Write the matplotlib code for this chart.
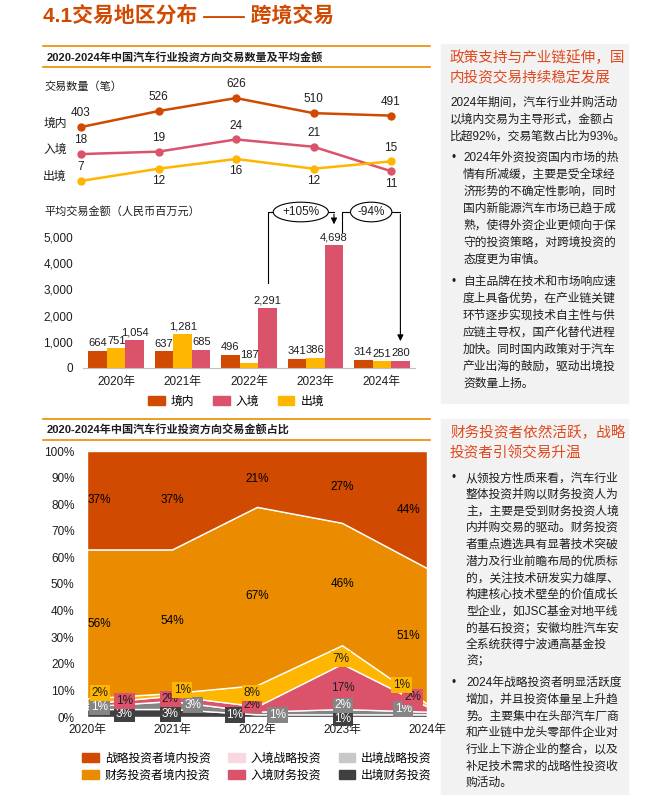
import matplotlib.pyplot as plt
from matplotlib.patches import Rectangle, Patch
from matplotlib.lines import Line2D

plt.rcParams['font.family'] = ['Liberation Sans', 'Noto Sans CJK SC', 'DejaVu Sans']

W, H = 670, 795

years = ['2020年', '2021年', '2022年', '2023年', '2024年']

# transaction counts
count_domestic = [403, 526, 626, 510, 491]
count_inbound = [18, 19, 24, 21, 11]
count_outbound = [7, 12, 16, 12, 15]

# average deal value (RMB mn)
avg_domestic = [664, 637, 496, 341, 314]
avg_outbound = [751, 1281, 187, 386, 251]
avg_inbound = [1054, 685, 2291, 4698, 280]
change_labels = ['+105%', '-94%']

# share of deal value (%), bottom -> top
share_out_fin = [3, 3, 1, 1, 1]
share_out_str = [1, 3, 1, 2, 1]
share_in_fin = [1, 2, 2, 17, 2]
share_in_str = [2, 1, 8, 7, 1]
share_dom_fin = [56, 54, 67, 46, 51]
share_dom_str = [37, 37, 21, 27, 44]

C_DOM = '#D04A02'
C_FIN = '#EB8C00'
C_OUT = '#FFB600'
C_IN = '#DB536A'
C_GRAY = '#858585'
C_DARK = '#404040'
C_LINE = '#EB8C00'
C_HEAD = '#E0481E'
TXT = '#1E1E1E'

fig = plt.figure(figsize=(W / 100, H / 100), dpi=100)


def px_axes(x0, y0, x1, y1):
    return fig.add_axes([x0 / W, 1 - y1 / H, (x1 - x0) / W, (y1 - y0) / H])


def txt(x, y, s, **kw):
    kw.setdefault('va', 'center')
    kw.setdefault('color', TXT)
    fig.text(x / W, 1 - y / H, s, **kw)


def hline(x0, x1, y, color=C_LINE, lw=1.2):
    fig.add_artist(Line2D([x0 / W, x1 / W], [1 - y / H, 1 - y / H], color=color, lw=lw))


# ---- header
txt(43, 15, '4.1交易地区分布 —— 跨境交易', fontsize=15, fontweight='bold', color=C_DOM)
hline(43, 430, 46)
txt(47, 57, '2020-2024年中国汽车行业投资方向交易数量及平均金额', fontsize=8, fontweight='bold')
hline(43, 430, 67)

# ---- line chart (counts)
txt(44, 87, '交易数量（笔）', fontsize=8)
for lab, yy in zip(['境内', '入境', '出境'], [124, 150, 177]):
    txt(55, yy, lab, fontsize=8.5, ha='center')

ax_s = px_axes(81, 80, 391, 198)
ax_d = px_axes(81, 80, 391, 198)
for a in (ax_s, ax_d):
    a.set_xlim(0, 4)
    a.axis('off')
ax_s.set_ylim(0, 118 / 2.44)
ax_d.set_ylim(-143, 765)

xs = list(range(5))


def draw_count(ax, vals, color, sides):
    ax.plot(xs, vals, color=color, lw=1.8, marker='o', ms=5, clip_on=False)
    for x, v, s in zip(xs, vals, sides):
        off = 10 if s > 0 else -9
        ax.annotate(str(v), (x, v), xytext=(0, off), textcoords='offset points',
                    ha='center', va='center', fontsize=8.5, color=TXT)


draw_count(ax_d, count_domestic, C_DOM, [1, 1, 1, 1, 1])
draw_count(ax_s, count_inbound, C_IN, [1, 1, 1, 1, -1])
draw_count(ax_s, count_outbound, C_OUT, [1, -1, -1, -1, 1])

# ---- bar chart (average value)
txt(44, 211, '平均交易金额（人民币百万元）', fontsize=8)
ax_b = px_axes(83, 237, 415, 368)
w = 0.28
b1 = ax_b.bar([x - w for x in xs], avg_domestic, w, color=C_DOM)
b2 = ax_b.bar(xs, avg_outbound, w, color=C_OUT)
b3 = ax_b.bar([x + w for x in xs], avg_inbound, w, color=C_IN)
for bars in (b1, b2, b3):
    ax_b.bar_label(bars, labels=[f'{v:,}' for v in bars.datavalues], padding=2,
                   fontsize=8, color=TXT)
ax_b.set_xlim(-0.5, 4.5)
ax_b.set_ylim(0, 5000)
ax_b.set_yticks(range(0, 5001, 1000))
ax_b.set_yticklabels([f'{v:,}' for v in range(0, 5001, 1000)])
ax_b.set_xticks(xs)
ax_b.set_xticklabels(years)
ax_b.tick_params(length=0, labelsize=8.5, colors=TXT)
ax_b.tick_params(axis='y', pad=7)
ax_b.tick_params(axis='x', pad=6)
for sp in ['top', 'right', 'left']:
    ax_b.spines[sp].set_visible(False)
ax_b.spines['bottom'].set_color('#BFBFBF')

# change brackets
top = 5954
kw = dict(color='black', lw=0.8, clip_on=False)
arrow = dict(arrowstyle='-|>', color='black', lw=0.8, mutation_scale=9)
x_a, x_b = 2 + w, 3 + w
ax_b.plot([x_a, x_a, x_b], [avg_inbound[2] + 950, top, top], **kw)
ax_b.annotate('', xy=(x_b, avg_inbound[3] + 680), xytext=(x_b, top + 20),
              arrowprops=arrow, annotation_clip=False)
x_c, x_d = 3.40, 4 + w
ax_b.plot([x_c, x_c, x_d], [avg_inbound[3] + 490, top, top], **kw)
ax_b.annotate('', xy=(x_d, avg_inbound[4] + 640), xytext=(x_d, top + 20),
              arrowprops=arrow, annotation_clip=False)
for xm, lab in zip([(x_a + x_b) / 2, (x_c + x_d) / 2], change_labels):
    ax_b.text(xm, top, lab, ha='center', va='center', fontsize=8.5, color=TXT,
              bbox=dict(boxstyle='ellipse,pad=0.08', fc='white', ec='black', lw=0.8),
              clip_on=False)

fig.legend(handles=[Patch(color=C_DOM, label='境内'), Patch(color=C_IN, label='入境'),
                    Patch(color=C_OUT, label='出境')],
           loc='center', bbox_to_anchor=(236 / W, 1 - 402 / H), ncol=3, frameon=False,
           fontsize=8.5, handlelength=1.4, handleheight=0.8, columnspacing=1.6,
           handletextpad=0.5)

# ---- section 2
hline(43, 430, 419)
txt(47, 430, '2020-2024年中国汽车行业投资方向交易金额占比', fontsize=8, fontweight='bold')
hline(43, 430, 440)

# right side panels (drawn first so the 2024 tick label sits over them)
fig.add_artist(Rectangle((441 / W, 1 - 403 / H), 187 / W, 359 / H, color='#F2F2F2', zorder=0))
fig.add_artist(Rectangle((441 / W, 0), 187 / W, 1 - 419 / H, color='#F2F2F2', zorder=0))

ax_a = px_axes(87, 451, 427, 717)
layers = [share_out_fin, share_out_str, share_in_fin, share_in_str, share_dom_fin, share_dom_str]
layer_colors = [C_DARK, C_GRAY, C_IN, C_OUT, C_FIN, C_DOM]
ax_a.stackplot(xs, *layers, colors=layer_colors, edgecolor='white', lw=1)
ax_a.set_xlim(0, 4)
ax_a.set_ylim(0, 100)
ax_a.set_yticks(range(0, 101, 10))
ax_a.set_yticklabels([f'{v}%' for v in range(0, 101, 10)])
ax_a.set_xticks(xs)
ax_a.set_xticklabels(years)
ax_a.tick_params(length=0, labelsize=8.5, colors=TXT)
ax_a.tick_params(axis='y', pad=9)
ax_a.tick_params(axis='x', pad=5)
for sp in ax_a.spines.values():
    sp.set_visible(False)

# big layers: label at middle of the band
base = [sum(v) for v in zip(*layers[:4])]
for i in xs:
    dx = 0.15 if i == 0 else (-0.22 if i == 4 else 0)
    lo = base[i]
    mid_fin = lo + share_dom_fin[i] / 2
    mid_str = lo + share_dom_fin[i] + share_dom_str[i] / 2
    ax_a.text(i + dx, mid_fin, f'{share_dom_fin[i]}%', ha='center', va='center', fontsize=8.5)
    ax_a.text(i + dx, mid_str, f'{share_dom_str[i]}%', ha='center', va='center', fontsize=8.5)

# thin layers: label spot (x, y%) for each year, None = no label
spots = {
    0: [(0.44, 1.1), (0.98, 1.1), (1.74, 0.8), (3.01, -0.6), None],
    1: [(0.15, 3.8), (1.25, 4.5), (2.24, 0.8), (3.01, 4.4), (3.72, 3.0)],
    2: [(0.44, 6.0), (0.98, 6.7), (1.94, 4.5), (3.01, 11.0), (3.83, 7.5)],
    3: [(0.15, 9.0), (1.12, 10.2), (1.94, 9.0), (2.99, 21.8), (3.7, 12.0)],
}
tcol = ['white', 'white', TXT, TXT]
for li in range(4):
    for i, sp in enumerate(spots[li]):
        if sp is None:
            continue
        ax_a.text(sp[0], sp[1], f'{layers[li][i]}%', ha='center', va='center',
                  fontsize=8.5, color=tcol[li], zorder=5, clip_on=False,
                  bbox=dict(boxstyle='square,pad=0.15', fc=layer_colors[li], ec='none'))

legend_items = [('战略投资者境内投资', C_DOM), ('财务投资者境内投资', C_FIN),
                ('入境战略投资', '#F9D9DF'), ('入境财务投资', C_IN),
                ('出境战略投资', '#C8C8C8'), ('出境财务投资', C_DARK)]
fig.legend(handles=[Patch(color=c, label=l) for l, c in legend_items],
           loc='center', bbox_to_anchor=(257 / W, 1 - 767 / H), ncol=3, frameon=False,
           fontsize=8.5, handlelength=1.4, handleheight=0.8, columnspacing=1.5,
           handletextpad=0.5, labelspacing=0.45)

# ---- right text panels
BODY = 8.5
txt(450, 58, '政策支持与产业链延伸，国', fontsize=10.5, color=C_HEAD)
txt(450, 78, '内投资交易持续稳定发展', fontsize=10.5, color=C_HEAD)
intro = ['2024年期间，汽车行业并购活动', '以境内交易为主导形式，金额占',
         '比超92%，交易笔数占比为93%。']
for k, s in enumerate(intro):
    txt(450, 103 + 17 * k, s, fontsize=BODY)

bul1 = ['2024年外资投资国内市场的热', '情有所减缓，主要是受全球经', '济形势的不确定性影响，同时',
        '国内新能源汽车市场已趋于成', '熟，使得外资企业更倾向于保', '守的投资策略，对跨境投资的',
        '态度更为审慎。']
bul2 = ['自主品牌在技术和市场响应速', '度上具备优势，在产业链关键', '环节逐步实现技术自主性与供',
        '应链主导权，国产化替代进程', '加快。同时国内政策对于汽车', '产业出海的鼓励，驱动出境投',
        '资数量上扬。']
for y0, lines in [(158, bul1), (282, bul2)]:
    txt(452, y0, '•', fontsize=BODY)
    for k, s in enumerate(lines):
        txt(463, y0 + 17 * k, s, fontsize=BODY)

txt(450, 433, '财务投资者依然活跃，战略', fontsize=10.5, color=C_HEAD)
txt(450, 453, '投资者引领交易升温', fontsize=10.5, color=C_HEAD)
bul3 = ['从领投方性质来看，汽车行业', '整体投资并购以财务投资人为', '主，主要是受到财务投资人境',
        '内并购交易的驱动。财务投资', '者重点遴选具有显著技术突破', '潜力及行业前瞻布局的优质标',
        '的，关注技术研发实力雄厚、', '构建核心技术壁垒的价值成长', '型企业，如JSC基金对地平线',
        '的基石投资；安徽均胜汽车安', '全系统获得宁波通高基金投', '资；']
bul4 = ['2024年战略投资者明显活跃度', '增加，并且投资体量呈上升趋', '势。主要集中在头部汽车厂商',
        '和产业链中龙头零部件企业对', '行业上下游企业的整合，以及', '补足技术需求的战略性投资收',
        '购活动。']
for y0, lines in [(478, bul3), (683, bul4)]:
    txt(452, y0, '•', fontsize=BODY)
    for k, s in enumerate(lines):
        txt(466, y0 + 16.7 * k, s, fontsize=BODY)

fig.savefig('out.png', dpi=100)
